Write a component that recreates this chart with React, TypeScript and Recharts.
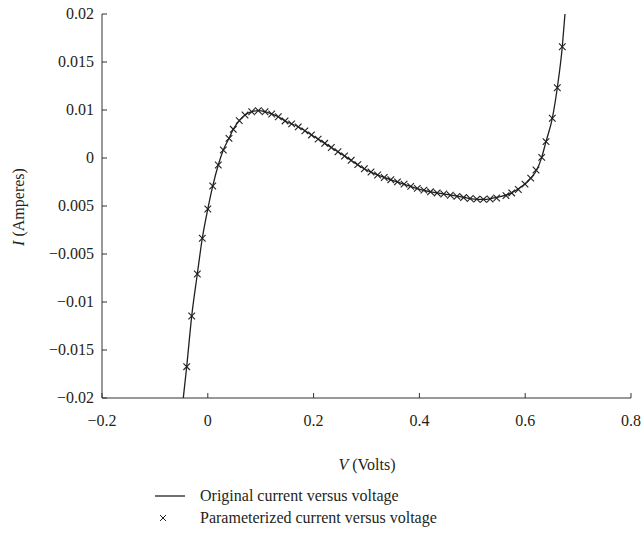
import { ComposedChart, Line, Scatter, XAxis, YAxis, Label } from "recharts";

// original I-V curve (volts, amperes)
const originalV = [
  -0.0463, -0.0399, -0.0304, -0.0198, -0.0104, 0.0, 0.0093, 0.0198, 0.0293, 0.0401,
  0.0482, 0.0595, 0.0703, 0.083, 0.0955, 0.1081, 0.1208, 0.1333, 0.1491, 0.168,
  0.1994, 0.231, 0.2626, 0.294, 0.3255, 0.3571, 0.3885, 0.42, 0.4452, 0.4767,
  0.5083, 0.5272, 0.5461, 0.5713, 0.5964, 0.6104, 0.6217, 0.6312, 0.6393, 0.6512,
  0.6607, 0.6701, 0.6752,
];
const originalI = [
  -0.02, -0.01674, -0.01146, -0.00708, -0.00336, -0.00031, 0.00208, 0.00427, 0.00583, 0.00705,
  0.00799, 0.00889, 0.00948, 0.00982, 0.00993, 0.00982, 0.00958, 0.0093, 0.00878, 0.00833,
  0.00729, 0.00618, 0.00507, 0.00393, 0.00313, 0.00253, 0.00195, 0.00149, 0.00126, 0.00097,
  0.0007, 0.0007, 0.00091, 0.00128, 0.00215, 0.00289, 0.00375, 0.00507, 0.0067, 0.00914,
  0.01232, 0.01659, 0.02,
];

// parameterized model markers
const paramV = [
  -0.0399, -0.0304, -0.0198, -0.0104, 0.0, 0.0093, 0.0198, 0.0293, 0.0401, 0.0482,
  0.0595, 0.0703, 0.083, 0.0955, 0.1081, 0.1208, 0.1333, 0.146, 0.1585, 0.171,
  0.1835, 0.196, 0.2085, 0.221, 0.2335, 0.246, 0.2585, 0.271, 0.2835, 0.296,
  0.3085, 0.321, 0.3335, 0.346, 0.3585, 0.371, 0.3835, 0.396, 0.4085, 0.421,
  0.4335, 0.446, 0.4585, 0.471, 0.4835, 0.496, 0.5085, 0.521, 0.5335, 0.546,
  0.5637, 0.5745, 0.587, 0.5996, 0.6104, 0.6204, 0.6312, 0.6393, 0.6512, 0.6607,
  0.6701,
];
const paramI = [
  -0.01674, -0.01146, -0.00708, -0.00336, -0.00031, 0.00208, 0.00427, 0.00583, 0.00705, 0.00799,
  0.00889, 0.00948, 0.00982, 0.00993, 0.00982, 0.00958, 0.0093, 0.00886, 0.00856, 0.00824,
  0.00782, 0.0074, 0.00696, 0.00653, 0.00609, 0.00565, 0.00521, 0.00476, 0.00431, 0.00388,
  0.00354, 0.00323, 0.00297, 0.00274, 0.00251, 0.00228, 0.00204, 0.00184, 0.00165, 0.00148,
  0.00136, 0.00125, 0.00112, 0.001, 0.00088, 0.00078, 0.00071, 0.00069, 0.00073, 0.00083,
  0.00108, 0.00136, 0.00172, 0.00228, 0.0029, 0.00375, 0.00507, 0.0067, 0.00914, 0.01232,
  0.01659,
];

const xTicks = [-0.2, 0, 0.2, 0.4, 0.6, 0.8];
const yTicks = [0.02, 0.015, 0.01, 0.005, 0, -0.005, -0.01, -0.015, -0.02];
// labels as printed on the original figure (top to bottom)
const yTickLabels = ["0.02", "0.015", "0.01", "0", "0.005", "\u22120.005", "\u22120.01", "\u22120.015", "\u22120.02"];

const seriesNames = ["Original current versus voltage", "Parameterized current versus voltage"];

const originalData = originalV.map((v, i) => ({ v, i: originalI[i] }));
const paramData = paramV.map((v, i) => ({ v, i: paramI[i] }));

const FONT = '"Liberation Serif", "DejaVu Serif", serif';
const INK = "#231f20";
const AXIS = "#333";

const fmtX = (v: number) => (v < 0 ? "\u2212" + Math.abs(v) : String(v));
const fmtY = (v: number) => {
  const idx = yTicks.findIndex((t) => Math.abs(t - v) < 1e-9);
  return idx >= 0 ? yTickLabels[idx] : String(v);
};

const XTick = (props: any) => {
  const { x, y, payload } = props;
  return (
    <text x={x} y={y} dy={12} textAnchor="middle" fontFamily={FONT} fontSize={16} fill={INK}>
      {fmtX(payload.value)}
    </text>
  );
};

const YTick = (props: any) => {
  const { x, y, payload } = props;
  return (
    <text x={x} y={y} dy={5} textAnchor="end" fontFamily={FONT} fontSize={16} fill={INK}>
      {fmtY(payload.value)}
    </text>
  );
};

const NoLabel = () => <g />;

const Cross = (props: any) => {
  const { cx, cy } = props;
  if (cx == null || cy == null) return <g />;
  const s = 3.3;
  return (
    <g stroke={INK} strokeWidth={1.1}>
      <line x1={cx - s} y1={cy - s} x2={cx + s} y2={cy + s} />
      <line x1={cx - s} y1={cy + s} x2={cx + s} y2={cy - s} />
    </g>
  );
};

export default function App() {
  return (
    <div
      style={{
        position: "absolute",
        left: 0,
        top: 0,
        width: 644,
        height: 541,
        background: "#fff",
        fontFamily: FONT,
      }}
    >
      <ComposedChart width={644} height={541} margin={{ top: 14, right: 13, left: 22, bottom: 113 }}>
        <XAxis
          dataKey="v"
          type="number"
          domain={[-0.2, 0.8]}
          ticks={xTicks}
          allowDataOverflow
          height={30}
          stroke={AXIS}
          tickLine={{ stroke: AXIS }}
          tickSize={-5}
          tickMargin={21}
          tick={XTick}
          interval={0}
        >
          <Label
            content={() => (
              <text x={367} y={470} textAnchor="middle" fontFamily={FONT} fontSize={16} fill={INK}>
                <tspan fontStyle="italic">V</tspan>
                <tspan> (Volts)</tspan>
              </text>
            )}
          />
        </XAxis>
        <XAxis
          xAxisId="top"
          orientation="top"
          type="number"
          domain={[-0.2, 0.8]}
          ticks={xTicks}
          height={0}
          stroke={AXIS}
          tickLine={{ stroke: AXIS }}
          tickSize={-5}
          tick={NoLabel}
          interval={0}
        />
        <YAxis
          dataKey="i"
          type="number"
          domain={[-0.02, 0.02]}
          ticks={yTicks}
          allowDataOverflow
          width={80}
          stroke={AXIS}
          tickLine={{ stroke: AXIS }}
          tickSize={-5}
          tickMargin={13}
          tick={YTick}
          interval={0}
        >
          <Label
            content={() => (
              <text
                x={24}
                y={207}
                textAnchor="middle"
                transform="rotate(-90 24 207)"
                fontFamily={FONT}
                fontSize={16}
                fill={INK}
              >
                <tspan fontStyle="italic">I</tspan>
                <tspan> (Amperes)</tspan>
              </text>
            )}
          />
        </YAxis>
        <YAxis
          yAxisId="right"
          orientation="right"
          type="number"
          domain={[-0.02, 0.02]}
          ticks={yTicks}
          width={0}
          stroke={AXIS}
          tickLine={{ stroke: AXIS }}
          tickSize={-5}
          tick={NoLabel}
          interval={0}
        />
        <Line
          data={originalData}
          dataKey="i"
          type="monotone"
          stroke={INK}
          strokeWidth={1.3}
          dot={false}
          activeDot={false}
          isAnimationActive={false}
          name={seriesNames[0]}
        />
        <Scatter
          data={paramData}
          dataKey="i"
          shape={Cross}
          isAnimationActive={false}
          name={seriesNames[1]}
        />
      </ComposedChart>
      <div
        style={{
          position: "absolute",
          left: 152,
          top: 485,
          fontFamily: FONT,
          fontSize: 16,
          color: INK,
          lineHeight: "22px",
        }}
      >
        <div style={{ display: "flex", alignItems: "center" }}>
          <svg width={40} height={22}>
            <line x1={3} y1={11} x2={33} y2={11} stroke={INK} strokeWidth={1.3} />
          </svg>
          <span style={{ marginLeft: 8 }}>{seriesNames[0]}</span>
        </div>
        <div style={{ display: "flex", alignItems: "center" }}>
          <svg width={40} height={22}>
            <g stroke={INK} strokeWidth={1}>
              <line x1={8} y1={8} x2={14} y2={14} />
              <line x1={8} y1={14} x2={14} y2={8} />
            </g>
          </svg>
          <span style={{ marginLeft: 8 }}>{seriesNames[1]}</span>
        </div>
      </div>
    </div>
  );
}
